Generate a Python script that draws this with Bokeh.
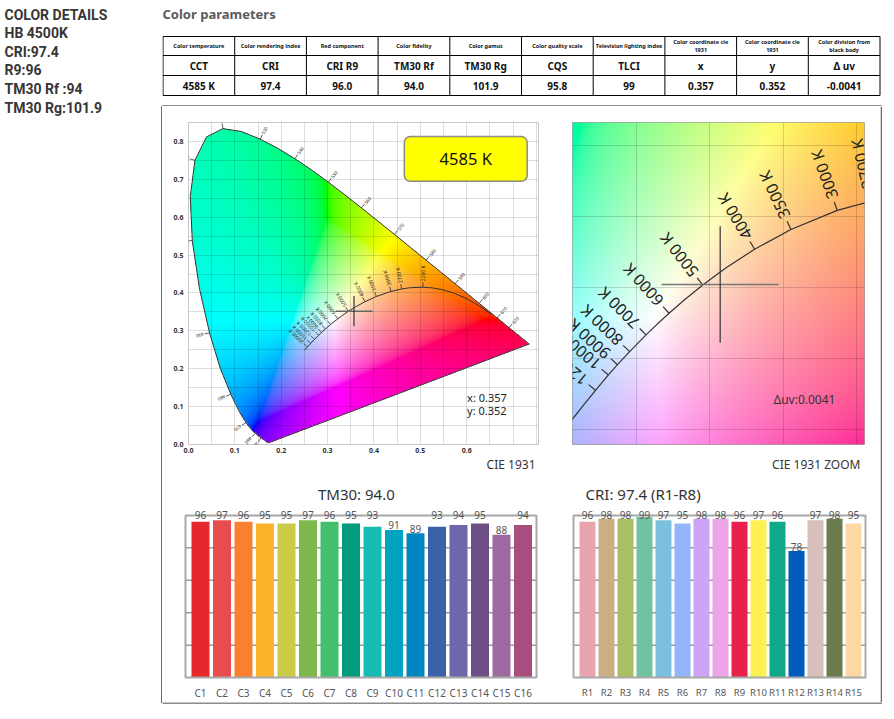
import numpy as np
from bokeh.plotting import figure
from bokeh.layouts import row, column
from bokeh.models import (Range1d, FixedTicker, PrintfTickFormatter, LabelSet,
                          ColumnDataSource, Grid)
from bokeh.core.properties import value
from bokeh.embed import file_html
from bokeh.resources import INLINE

FONT = "Noto Sans"

# ---------------- data ----------------
detail_lines = ["COLOR DETAILS", "HB 4500K", "CRI:97.4", "R9:96", "TM30 Rf :94", "TM30 Rg:101.9"]

table_headers = ["Color temperature", "Color rendering index", "Red component", "Color fidelity",
                 "Color gamut", "Color quality scale", "Television lighting index",
                 "Color coordinate cie\n1931", "Color coordinate cie\n1931",
                 "Color division from\nblack body"]
table_symbols = ["CCT", "CRI", "CRI R9", "TM30 Rf", "TM30 Rg", "CQS", "TLCI", "x", "y", "Δ uv"]
table_values = ["4585 K", "97.4", "96.0", "94.0", "101.9", "95.8", "99", "0.357", "0.352", "-0.0041"]

cct_value = 4585
chroma_x = 0.357
chroma_y = 0.352
delta_uv = 0.0041

# CIE 1931 2-degree spectral locus
locus_nm = [380, 385, 390, 395, 400, 405, 410, 415, 420, 425, 430, 435, 440, 445, 450, 455,
            460, 465, 470, 475, 480, 485, 490, 495, 500, 505, 510, 515, 520, 525, 530, 535,
            540, 545, 550, 555, 560, 565, 570, 575, 580, 585, 590, 595, 600, 605, 610, 615,
            620, 625, 630, 635, 640, 645, 650, 660, 680, 700]
locus_x = [0.1741, 0.1740, 0.1738, 0.1736, 0.1733, 0.1730, 0.1726, 0.1721, 0.1714, 0.1703,
           0.1689, 0.1669, 0.1644, 0.1611, 0.1566, 0.1510, 0.1440, 0.1355, 0.1241, 0.1096,
           0.0913, 0.0687, 0.0454, 0.0235, 0.0082, 0.0039, 0.0139, 0.0389, 0.0743, 0.1142,
           0.1547, 0.1929, 0.2296, 0.2658, 0.3016, 0.3373, 0.3731, 0.4087, 0.4441, 0.4788,
           0.5125, 0.5448, 0.5752, 0.6029, 0.6270, 0.6482, 0.6658, 0.6801, 0.6915, 0.7006,
           0.7079, 0.7140, 0.7190, 0.7230, 0.7260, 0.7300, 0.7334, 0.7347]
locus_y = [0.0050, 0.0050, 0.0049, 0.0049, 0.0048, 0.0048, 0.0048, 0.0048, 0.0051, 0.0058,
           0.0069, 0.0086, 0.0109, 0.0138, 0.0177, 0.0227, 0.0297, 0.0399, 0.0578, 0.0868,
           0.1327, 0.2007, 0.2950, 0.4127, 0.5384, 0.6548, 0.7502, 0.8120, 0.8338, 0.8262,
           0.8059, 0.7816, 0.7543, 0.7243, 0.6923, 0.6589, 0.6245, 0.5896, 0.5547, 0.5202,
           0.4866, 0.4544, 0.4242, 0.3965, 0.3725, 0.3514, 0.3340, 0.3197, 0.3083, 0.2993,
           0.2920, 0.2859, 0.2809, 0.2770, 0.2740, 0.2700, 0.2666, 0.2653]
wl_tick_nm = [450, 460, 470, 480, 490, 500, 510, 520, 530, 540, 550, 560, 570, 580, 590,
              600, 610, 620]

# Planckian locus (CIE 1931 xy)
planck_cct = [1000, 1200, 1400, 1600, 1800, 2000, 2200, 2500, 2700, 3000, 3500, 4000, 4500,
              5000, 5500, 6000, 6500, 7000, 8000, 9000, 10000, 12000, 15000, 20000, 30000]
planck_x = [0.6528, 0.6251, 0.5985, 0.5732, 0.5493, 0.5267, 0.5056, 0.4770, 0.4599, 0.4369,
            0.4053, 0.3805, 0.3608, 0.3451, 0.3325, 0.3221, 0.3135, 0.3064, 0.2952, 0.2869,
            0.2807, 0.2719, 0.2637, 0.2565, 0.2501]
planck_y = [0.3444, 0.3674, 0.3858, 0.3993, 0.4082, 0.4133, 0.4152, 0.4137, 0.4106, 0.4041,
            0.3907, 0.3768, 0.3636, 0.3516, 0.3411, 0.3318, 0.3236, 0.3166, 0.3048, 0.2956,
            0.2884, 0.2776, 0.2671, 0.2577, 0.2489]
planck_tick_cct = [2200, 2700, 3000, 3500, 4000, 5000, 6000, 7000, 8000, 9000, 10000, 12000,
                   15000, 20000]
zoom_tick_cct = [2700, 3000, 3500, 4000, 5000, 6000, 7000, 8000, 9000, 10000, 12000]

tm30_names = ["C1", "C2", "C3", "C4", "C5", "C6", "C7", "C8", "C9", "C10", "C11", "C12",
              "C13", "C14", "C15", "C16"]
tm30_values = [96, 97, 96, 95, 95, 97, 96, 95, 93, 91, 89, 93, 94, 95, 88, 94]
tm30_colors = ["#e5282c", "#e84c4f", "#f98030", "#fdb42b", "#cccb47", "#7eb84c", "#43bf6d",
               "#009c7b", "#16bbb1", "#00a4c1", "#0085c3", "#3b61a9", "#6c68ab", "#6a4e84",
               "#9c6aa1", "#a74e7f"]

cri_names = ["R1", "R2", "R3", "R4", "R5", "R6", "R7", "R8", "R9", "R10", "R11", "R12",
             "R13", "R14", "R15"]
cri_values = [96, 98, 98, 99, 97, 95, 98, 98, 96, 97, 96, 78, 97, 98, 95]
cri_colors = ["#e8a5af", "#cbaf82", "#a9bf63", "#6fc49f", "#7bc0dd", "#92b5fb", "#cda4f7",
              "#eea4e9", "#e9204c", "#fcf052", "#0fa889", "#015bbf", "#d8bfb9", "#6a7b4c",
              "#fdd8a3"]

# ---------------- helpers ----------------
SRGB = np.array([[3.2406, -1.5372, -0.4986],
                 [-0.9689, 1.8758, 0.0415],
                 [0.0557, -0.2040, 1.0570]])


def inside_polygon(px, py, vx, vy):
    res = np.zeros(px.shape, dtype=bool)
    n = len(vx)
    j = n - 1
    for i in range(n):
        xi, yi, xj, yj = vx[i], vy[i], vx[j], vy[j]
        if yj != yi:
            cond = ((yi > py) != (yj > py)) & (px < (xj - xi) * (py - yi) / (yj - yi) + xi)
            res ^= cond
        j = i
    return res


def chroma_image(x0, x1, y0, y1, nx, ny, poly=None):
    xs = x0 + (np.arange(nx) + 0.5) * (x1 - x0) / nx
    ys = y0 + (np.arange(ny) + 0.5) * (y1 - y0) / ny
    gx, gy = np.meshgrid(xs, ys)
    yy = np.maximum(gy, 1e-3)
    xyz = np.stack([gx / yy, np.ones_like(gx), (1 - gx - gy) / yy])
    rgb = np.tensordot(SRGB, xyz, axes=1)
    rgb = rgb - np.minimum(rgb.min(axis=0), 0)
    rgb = rgb / np.maximum(rgb.max(axis=0), 1e-9)
    rgb = np.where(rgb <= 0.0031308, 12.92 * rgb, 1.055 * np.power(rgb, 1 / 2.4) - 0.055)
    img = np.zeros((ny, nx), dtype=np.uint32)
    view = img.view(dtype=np.uint8).reshape((ny, nx, 4))
    for k in range(3):
        view[..., k] = np.clip(rgb[k] * 255, 0, 255).astype(np.uint8)
    if poly is None:
        view[..., 3] = 255
    else:
        view[..., 3] = np.where(inside_polygon(gx, gy, poly[0], poly[1]), 255, 0).astype(np.uint8)
    return img


def normals(xs, ys, sx, sy, flip=False):
    px = np.asarray(xs) * sx
    py = np.asarray(ys) * sy
    tx = np.gradient(px)
    ty = np.gradient(py)
    ln = np.hypot(tx, ty)
    nx, ny = -ty / ln, tx / ln
    if flip:
        nx, ny = -nx, -ny
    return nx, ny


def plain(width, height, xr, yr):
    p = figure(width=width, height=height, x_range=xr, y_range=yr,
               output_backend="svg", toolbar_location=None,
               x_axis_location=None, y_axis_location=None,
               min_border=0, outline_line_color=None)
    p.xgrid.visible = False
    p.ygrid.visible = False
    return p


# ---------------- left text column ----------------
left_fig = plain(162, 719, Range1d(0, 162), Range1d(719, 0))
left_fig.text(x=4, y=[14 + 18.6 * i for i in range(len(detail_lines))], text=detail_lines,
              text_font=value("Roboto"), text_font_style="bold", text_font_size="14px",
              text_color="#363636", text_baseline="middle", text_align="left")
left_fig.segment(x0=161.3, y0=105.6, x1=161.3, y1=702.6, line_color="#666666", line_width=1.5)

# ---------------- top: title + table ----------------
top_fig = plain(732, 106, Range1d(162, 894), Range1d(106, 0))
top_fig.text(x=162, y=13.5, text=["Color parameters"], text_font=value(FONT),
             text_font_style="bold", text_font_size="13px", text_color="#5a5a5a",
             text_baseline="middle", text_align="left")
ncol = len(table_headers)
tab_l, tab_r = 162.5, 879.5
col_w = (tab_r - tab_l) / ncol
edges = tab_l + np.arange(ncol + 1) * col_w
centers = (edges[:-1] + edges[1:]) / 2
row_edges = [36, 55, 75, 95]
top_fig.segment(x0=edges, y0=row_edges[0], x1=edges, y1=row_edges[-1],
                line_color="black", line_width=1)
top_fig.segment(x0=tab_l, y0=row_edges, x1=tab_r, y1=row_edges, line_color="black", line_width=1)
top_fig.text(x=centers, y=(row_edges[0] + row_edges[1]) / 2, text=table_headers,
             text_font=value(FONT), text_font_style="bold", text_font_size="5.5px",
             text_color="#111111", text_align="center", text_baseline="middle",
             text_line_height=1.1)
top_fig.text(x=centers, y=(row_edges[1] + row_edges[2]) / 2, text=table_symbols,
             text_font=value(FONT), text_font_style="bold", text_font_size="10px",
             text_color="#111111", text_align="center", text_baseline="middle")
top_fig.text(x=centers, y=(row_edges[2] + row_edges[3]) / 2, text=table_values,
             text_font=value(FONT), text_font_style="bold", text_font_size="10px",
             text_color="#111111", text_align="center", text_baseline="middle")
top_fig.segment(x0=161, y0=105.4, x1=881, y1=105.4, line_color="#666666", line_width=1.5)

# ---------------- CIE 1931 diagram ----------------
ROW1_H = 350          # top charts occupy page y 106..456
CIE_BOTTOM = 12
CIE_FRAME_H = ROW1_H - 16 - CIE_BOTTOM
CX = (0.0, 0.755)
CY = (0.0, 0.85)
cie = figure(width=394, height=ROW1_H, x_range=Range1d(*CX), y_range=Range1d(*CY),
             output_backend="svg", toolbar_location=None,
             min_border_left=26, min_border_right=18, min_border_top=16,
             min_border_bottom=CIE_BOTTOM,
             outline_line_color="#c8c8c8", background_fill_color="white")
SXM = 350 / (CX[1] - CX[0])
SYM = CIE_FRAME_H / (CY[1] - CY[0])
img = chroma_image(CX[0], CX[1], CY[0], CY[1], 350, CIE_FRAME_H,
                   poly=(np.array(locus_x), np.array(locus_y)))
r_img = cie.image_rgba(image=[img], x=CX[0], y=CY[0], dw=CX[1] - CX[0], dh=CY[1] - CY[0])
r_img.level = "image"
for ax in (cie.xaxis, cie.yaxis):
    ax.axis_line_color = None
    ax.major_tick_line_color = None
    ax.minor_tick_line_color = None
    ax.major_tick_out = 0
    ax.major_tick_in = 0
    ax.minor_tick_out = 0
    ax.minor_tick_in = 0
    ax.major_label_text_font_size = "7px"
    ax.major_label_text_font_style = "bold"
    ax.major_label_text_color = "#333333"
    ax.major_label_text_font = FONT
    ax.formatter = PrintfTickFormatter(format="%.1f")
cie.xaxis.ticker = FixedTicker(ticks=[0.0, 0.1, 0.2, 0.3, 0.4, 0.5, 0.6])
cie.yaxis.ticker = FixedTicker(ticks=[0.0, 0.1, 0.2, 0.3, 0.4, 0.5, 0.6, 0.7, 0.8])
cie.xaxis.major_label_standoff = 3
cie.yaxis.major_label_standoff = 5
cie.xgrid.ticker = FixedTicker(ticks=list(np.round(np.arange(0, 0.7501, 0.05), 2)))
cie.ygrid.ticker = FixedTicker(ticks=list(np.round(np.arange(0, 0.8501, 0.05), 2)))
for g in (cie.xgrid, cie.ygrid):
    g.grid_line_color = "black"
    g.grid_line_alpha = 0.13
    g.grid_line_width = 1

cie.patch(locus_x, locus_y, fill_color=None, line_color="#333333", line_width=1)

# wavelength ticks
lnx, lny = normals(locus_x, locus_y, SXM, SYM)
idx = [locus_nm.index(w) for w in wl_tick_nm]
wx = np.array(locus_x)[idx]
wy = np.array(locus_y)[idx]
wnx, wny = lnx[idx], lny[idx]
cie.segment(x0=wx, y0=wy, x1=wx + wnx * 5 / SXM, y1=wy + wny * 5 / SYM,
            line_color="#333333", line_width=0.8)
cie.text(x=wx + wnx * 6 / SXM, y=wy + wny * 6 / SYM, text=[str(w) for w in wl_tick_nm],
         angle=np.arctan2(wny, wnx), text_font=value(FONT), text_font_size="4.5px",
         text_color="#222222", text_align="left", text_baseline="middle")

# Planckian locus
cie.line(planck_x, planck_y, line_color="#333333", line_width=1)
pnx, pny = normals(planck_x, planck_y, SXM, SYM, flip=True)
pidx = [planck_cct.index(c) for c in planck_tick_cct]
tx_ = np.array(planck_x)[pidx]
ty_ = np.array(planck_y)[pidx]
cie.segment(x0=tx_, y0=ty_, x1=tx_ + pnx[pidx] * 5 / SXM, y1=ty_ + pny[pidx] * 5 / SYM,
            line_color="#333333", line_width=0.8)
cie.text(x=tx_ + pnx[pidx] * 6 / SXM, y=ty_ + pny[pidx] * 6 / SYM,
         text=[f"{c} K" for c in planck_tick_cct], angle=np.arctan2(pny[pidx], pnx[pidx]),
         text_font=value(FONT), text_font_size="5px", text_color="#222222",
         text_align="left", text_baseline="middle")

# crosshair
cie.segment(x0=[chroma_x - 0.04, chroma_x], y0=[chroma_y, chroma_y - 0.04],
            x1=[chroma_x + 0.04, chroma_x], y1=[chroma_y, chroma_y + 0.04],
            line_color=["#666666", "#333333"], line_width=[1.5, 1.2])

# CCT box
cie.quad(left=0.4655, right=0.7306, bottom=0.695, top=0.813, fill_color="#ffff00",
         line_color="#8a8a8a", line_width=1.5, border_radius=6)
cie.text(x=(0.4655 + 0.7306) / 2, y=(0.695 + 0.813) / 2, text=[f"{cct_value} K"],
         text_font=value(FONT), text_font_size="16.5px", text_color="#111111",
         text_align="center", text_baseline="middle")
cie.text(x=0.601, y=[0.123, 0.089], text=[f"x: {chroma_x}", f"y: {chroma_y}"],
         text_font=value(FONT), text_font_size="11px", text_color="#222222",
         text_align="left", text_baseline="middle")

# ---------------- CIE 1931 ZOOM ----------------
ZX = (0.2562, 0.4555)
ZY = (0.2395, 0.4659)
zoom = figure(width=324, height=ROW1_H, x_range=Range1d(*ZX), y_range=Range1d(*ZY),
              output_backend="svg", toolbar_location=None,
              x_axis_location=None, y_axis_location=None,
              min_border_left=16, min_border_right=16, min_border_top=16,
              min_border_bottom=ROW1_H - 16 - 323,
              outline_line_color="#a0a0a0")
zoom.xgrid.visible = False
zoom.ygrid.visible = False
SXZ = 292 / (ZX[1] - ZX[0])
SYZ = 323 / (ZY[1] - ZY[0])
zimg = chroma_image(ZX[0], ZX[1], ZY[0], ZY[1], 292, 323)
zr = zoom.image_rgba(image=[zimg], x=ZX[0], y=ZY[0], dw=ZX[1] - ZX[0], dh=ZY[1] - ZY[0])
zr.level = "image"
zoom.add_layout(Grid(dimension=0, ticker=FixedTicker(ticks=[0.30, 0.35, 0.40, 0.45]),
                     grid_line_color="black", grid_line_alpha=0.15))
zoom.add_layout(Grid(dimension=1, ticker=FixedTicker(ticks=[0.25, 0.30, 0.35, 0.40, 0.45]),
                     grid_line_color="black", grid_line_alpha=0.15))
zoom.line(planck_x, planck_y, line_color="#333333", line_width=1.2)
znx, zny = normals(planck_x, planck_y, SXZ, SYZ, flip=True)
zidx = [planck_cct.index(c) for c in zoom_tick_cct]
zx_ = np.array(planck_x)[zidx]
zy_ = np.array(planck_y)[zidx]
zoom.segment(x0=zx_, y0=zy_, x1=zx_ + znx[zidx] * 9 / SXZ, y1=zy_ + zny[zidx] * 9 / SYZ,
             line_color="#333333", line_width=1.2)
zoom.text(x=zx_ + znx[zidx] * 13 / SXZ, y=zy_ + zny[zidx] * 13 / SYZ,
          text=[f"{c} K" for c in zoom_tick_cct], angle=np.arctan2(zny[zidx], znx[zidx]),
          text_font=value(FONT), text_font_size="16px", text_color="#222222",
          text_align="left", text_baseline="middle")
zoom.segment(x0=[chroma_x - 0.04, chroma_x], y0=[chroma_y, chroma_y - 0.041],
             x1=[chroma_x + 0.04, chroma_x], y1=[chroma_y, chroma_y + 0.041],
             line_color=["#777777", "#333333"], line_width=[1.5, 1.2])
zoom.text(x=0.3934, y=0.2710, text=[f"Δuv:{delta_uv}"], text_font=value(FONT),
          text_font_size="12px", text_color="#333333", text_align="left",
          text_baseline="middle")


# ---------------- bar charts (also carry the captions of the charts above) ----------------
ROW2_H = 596 - ROW1_H   # page y 456..702


def bar_chart(width, names, values, colors, pitch_px, first_px, box_px, title, title_x,
              title_align, bar_w, label_size, caption, caption_px):
    ppu = 1.68                      # px per unit; box spans page y 517..685
    top_px = 517 - (702 - ROW2_H)   # px between figure top and 100-line
    x0 = 1 - first_px / pitch_px
    xr = (x0, x0 + width / pitch_px)
    box_l = 1 - (first_px - box_px[0]) / pitch_px
    box_r = 1 + (box_px[1] - first_px) / pitch_px
    p = figure(width=width, height=ROW2_H, x_range=Range1d(*xr),
               y_range=Range1d(-2 / ppu, 100 + top_px / ppu),
               output_backend="svg", toolbar_location=None, y_axis_location=None,
               min_border_left=0, min_border_right=0, min_border_top=0, min_border_bottom=15,
               outline_line_color=None)
    p.xgrid.visible = False
    p.ygrid.visible = False
    p.segment(x0=box_l, x1=box_r, y0=[20, 40, 60, 80], y1=[20, 40, 60, 80],
              line_color="#9a9a9a", line_width=1.5)
    xs = list(range(1, len(names) + 1))
    vals = np.array(values, dtype=float)
    src = ColumnDataSource(dict(x=xs, top=values, color=colors,
                                ly=np.where(vals >= 92, 100.3, vals + 2.8),
                                label=[str(v) for v in values]))
    p.vbar(x="x", top="top", bottom=0, width=bar_w, fill_color="color", line_color=None,
           source=src)
    p.quad(left=box_l, right=box_r, bottom=0, top=100, fill_color=None,
           line_color="#a8a8a8", line_width=2)
    p.add_layout(LabelSet(x="x", y="ly", text="label", source=src, text_align="center",
                          text_baseline="middle", text_font=value(FONT),
                          text_font_size="10px", text_color="#555555"))
    p.text(x=title_x, y=100 + (517 - 495) / ppu, text=[title], text_align=title_align,
           text_baseline="middle", text_font=value(FONT), text_font_size="15px",
           text_color="#333333")
    p.text(x=1 + (caption_px - first_px) / pitch_px, y=100 + (517 - 464) / ppu,
           text=[caption], text_align="right", text_baseline="middle",
           text_font=value(FONT), text_font_size="12px", text_color="#333333")
    ax = p.xaxis
    ax.ticker = FixedTicker(ticks=xs)
    ax.major_label_overrides = {x: n for x, n in zip(xs, names)}
    ax.axis_line_color = None
    ax.major_tick_line_color = None
    ax.minor_tick_line_color = None
    ax.major_label_standoff = 0
    ax.major_label_text_font = FONT
    ax.major_label_text_font_size = label_size
    ax.major_label_text_color = "#555555"
    return p


tm30 = bar_chart(394, tm30_names, tm30_values, tm30_colors, 21.5, 38, (23, 374),
                 "TM30: 94.0", 8.25, "center", 0.837, "10px", "CIE 1931", 373)
cri = bar_chart(324, cri_names, cri_values, cri_colors, 19, 31, (17, 309),
                "CRI: 97.4 (R1-R8)", 0.895, "left", 0.842, "9.5px", "CIE 1931 ZOOM", 304)

# ---------------- frame pieces ----------------
right_fig = plain(14, 596, Range1d(880, 894), Range1d(702, 106))
right_fig.segment(x0=880.7, y0=106, x1=880.7, y1=702, line_color="#666666", line_width=1.5)
bottom_fig = plain(732, 17, Range1d(162, 894), Range1d(719, 702))
bottom_fig.segment(x0=161, y0=702.6, x1=881.4, y1=702.6, line_color="#666666", line_width=1.5)

panel = column(row(cie, zoom), row(tm30, cri))
right_side = column(top_fig, row(panel, right_fig), bottom_fig)
layout = row(left_fig, right_side)

with open("out.html", "w", encoding="utf-8") as f:
    f.write(file_html(layout, INLINE))
